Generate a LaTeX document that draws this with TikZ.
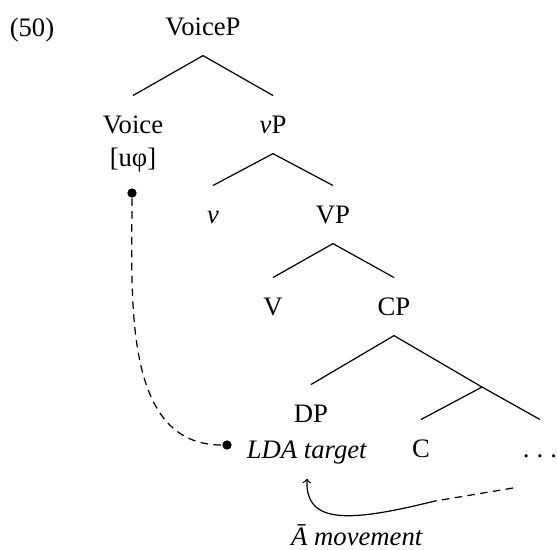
\documentclass[tikz,border=0pt]{standalone}
\usepackage{fontspec}
\setmainfont{Liberation Serif}

\begin{document}
\begin{tikzpicture}[x=0.45pt,y=-0.45pt,line width=0.55pt,
  every node/.style={font=\fontsize{12}{14}\selectfont},
  cat/.style={anchor=base,inner sep=0pt,text height=16.6pt,text depth=9pt},
  dot/.style={circle,fill,inner sep=0pt,minimum size=4.2pt},
  link/.style={dash pattern=on 3.4pt off 2.4pt}]

  \useasboundingbox (0,0) rectangle (557,549);

  \node[anchor=base] (ex) at (32,36) {(50)};

  \node[cat] (voicep) at (203,35) {VoiceP};
  \node[cat] (voice) at (133,133) {Voice};
  \node[anchor=base] (feat) at (133,166) {[uφ]};
  \node[cat] (vp) at (273,133) {\textit{v}P};
  \node[cat] (v) at (213,223) {\textit{v}};
  \node[cat] (VP) at (333,223) {VP};
  \node[cat] (V) at (273,315) {V};
  \node[cat] (cp) at (394,315) {CP};
  \node[cat] (dp) at (311,422) {DP};
  \node[cat] (lda) at (307,458) {\textit{LDA target}};
  \node[cat] (c) at (421,457) {C};
  \node[cat] (rest) at (540,457) {.\hspace{3.2pt}.\hspace{3.2pt}.};
  \coordinate (cbar) at (482,387);

  % tree
  \draw (voicep.south) -- (voice.north);
  \draw (voicep.south) -- (vp.north);
  \draw (vp.south) -- (v.north);
  \draw (vp.south) -- (VP.north);
  \draw (VP.south) -- (V.north);
  \draw (VP.south) -- (cp.north);
  \draw (cp.south) -- (dp.north);
  \draw (cp.south) -- (cbar) -- (rest.north);
  \draw (cbar) -- (c.north);

  % agreement
  \node[dot] (probe) at (132,193) {};
  \node[dot] (goal) at (227,445) {};
  \draw[link] (probe) .. controls (132,298) and (122,445) .. (goal);

  % movement
  \coordinate (src) at (513,488);
  \coordinate (bend) at (435,501);
  \draw[link] (src) -- (bend);
  \draw[->] (bend) .. controls (350,522) and (305,525) .. (lda.south);
  \node[anchor=base] (mvt) at (357,545) {\textit{\=A movement}};
\end{tikzpicture}
\end{document}
